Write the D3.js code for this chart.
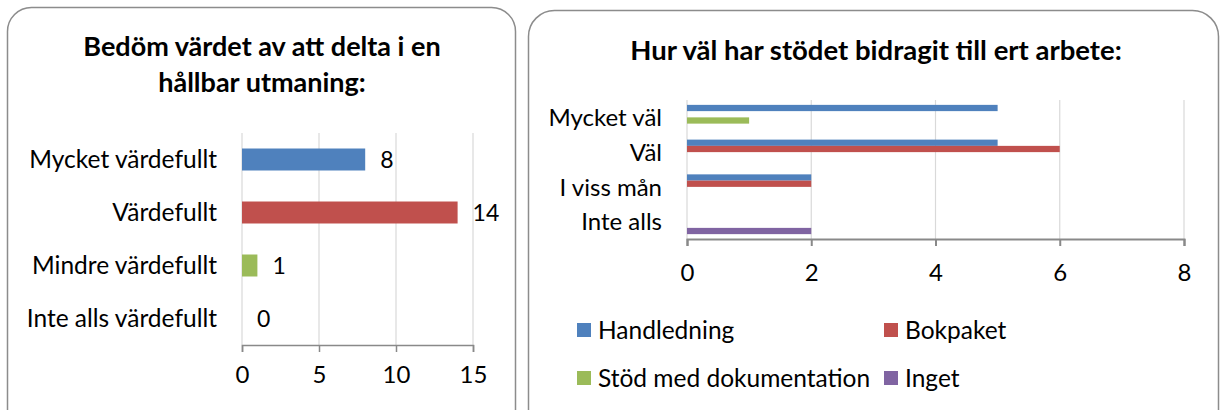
<!DOCTYPE html>
<html>
<head>
<meta charset="utf-8">
<script src="https://cdn.jsdelivr.net/npm/d3@7"></script>
<style>
  body { margin: 0; background: #fff; }
  svg text { font-family: Lato, "Open Sans", sans-serif; fill: #000; }
</style>
</head>
<body>
<svg id="chart" width="1224" height="410"></svg>
<script>
// left chart data
var valueCats = ["Mycket värdefullt", "Värdefullt", "Mindre värdefullt", "Inte alls värdefullt"];
var valueCounts = [8, 14, 1, 0];
var valueColors = ["#4F81BD", "#C0504D", "#9BBB59", "#4F81BD"];
var valueTicks = [0, 5, 10, 15];

// right chart data
var supportCats = ["Mycket väl", "Väl", "I viss mån", "Inte alls"];
var supportSeries = ["Handledning", "Bokpaket", "Stöd med dokumentation", "Inget"];
var handledning = [5, 5, 2, 0];
var bokpaket = [0, 6, 2, 0];
var stodDok = [1, 0, 0, 0];
var inget = [0, 0, 0, 2];
var supportColors = ["#4F81BD", "#C0504D", "#9BBB59", "#8064A2"];
var supportTicks = [0, 2, 4, 6, 8];

var svg = d3.select("#chart");

var GRID = "#D9D9D9", AXIS = "#898989", BORDER = "#8C8C8C";

// ---- left panel ----
svg.append("rect")
	.attr("x", 7.5).attr("y", 7.5)
	.attr("width", 508).attr("height", 430)
	.attr("rx", 24)
	.attr("fill", "#fff").attr("stroke", BORDER).attr("stroke-width", 1.5);

var left = svg.append("g");

left.append("text")
	.attr("x", 262).attr("y", 56)
	.attr("text-anchor", "middle")
	.style("font-weight", "bold").style("font-size", "27px")
	.text("Bedöm värdet av att delta i en");
left.append("text")
	.attr("x", 262).attr("y", 92)
	.attr("text-anchor", "middle")
	.style("font-weight", "bold").style("font-size", "27px")
	.text("hållbar utmaning:");

var x1 = d3.scaleLinear().domain([0, 15]).range([242, 473]);
var y1 = d3.scaleBand().domain(valueCats).range([133, 345])
	.paddingInner(0.585).paddingOuter(0.2925);

left.selectAll("line.grid")
	.data(valueTicks)
	.enter().append("line")
	.attr("class", "grid")
	.attr("x1", function(d) { return x1(d); })
	.attr("x2", function(d) { return x1(d); })
	.attr("y1", 133).attr("y2", 345)
	.attr("stroke", GRID).attr("stroke-width", 1.2);

left.selectAll("rect.bar")
	.data(valueCounts)
	.enter().append("rect")
	.attr("class", "bar")
	.attr("x", x1(0))
	.attr("y", function(d, i) { return y1(valueCats[i]); })
	.attr("width", function(d) { return x1(d) - x1(0); })
	.attr("height", y1.bandwidth())
	.attr("fill", function(d, i) { return valueColors[i]; });

left.selectAll("text.val")
	.data(valueCounts)
	.enter().append("text")
	.attr("class", "val")
	.attr("x", function(d) { return x1(d) + 15; })
	.attr("y", function(d, i) { return y1(valueCats[i]) + y1.bandwidth() / 2; })
	.attr("dy", "0.36em")
	.style("font-size", "23px")
	.text(function(d) { return d; });

left.selectAll("text.cat")
	.data(valueCats)
	.enter().append("text")
	.attr("class", "cat")
	.attr("x", 217)
	.attr("y", function(d) { return y1(d) + y1.bandwidth() / 2; })
	.attr("dy", "0.36em")
	.attr("text-anchor", "end")
	.style("font-size", "24.5px")
	.text(function(d) { return d; });

var xAxis1 = left.append("g")
	.attr("transform", "translate(0,345)")
	.call(d3.axisBottom(x1).tickValues(valueTicks).tickSize(7).tickPadding(14));
xAxis1.select(".domain").attr("stroke", AXIS).attr("stroke-width", 1.5);
xAxis1.selectAll(".tick line").attr("stroke", AXIS).attr("stroke-width", 1.5);
xAxis1.selectAll(".tick text").style("font-size", "24px").attr("fill", "#000");

// ---- right panel ----
svg.append("rect")
	.attr("x", 528.5).attr("y", 10.5)
	.attr("width", 690).attr("height", 430)
	.attr("rx", 26)
	.attr("fill", "#fff").attr("stroke", BORDER).attr("stroke-width", 1.5);

var right = svg.append("g");

right.append("text")
	.attr("x", 876).attr("y", 60)
	.attr("text-anchor", "middle")
	.style("font-weight", "bold").style("font-size", "27.5px")
	.text("Hur väl har stödet bidragit till ert arbete:");

var x2 = d3.scaleLinear().domain([0, 8]).range([687, 1184]);
var y2 = d3.scaleBand().domain(supportCats).range([100, 239])
	.paddingInner(0.28).paddingOuter(0.14);
var y2s = d3.scaleBand().domain(supportSeries).range([0, y2.bandwidth()]);

right.selectAll("line.grid")
	.data(supportTicks)
	.enter().append("line")
	.attr("class", "grid")
	.attr("x1", function(d) { return x2(d); })
	.attr("x2", function(d) { return x2(d); })
	.attr("y1", 100).attr("y2", 239)
	.attr("stroke", GRID).attr("stroke-width", 1.2);

var seriesValues = [handledning, bokpaket, stodDok, inget];
supportSeries.forEach(function(s, si) {
	right.selectAll("rect.s" + si)
		.data(seriesValues[si])
		.enter().append("rect")
		.attr("class", "s" + si)
		.attr("x", x2(0))
		.attr("y", function(d, i) { return y2(supportCats[i]) + y2s(s); })
		.attr("width", function(d) { return x2(d) - x2(0); })
		.attr("height", y2s.bandwidth())
		.attr("fill", supportColors[si]);
});

right.selectAll("text.cat")
	.data(supportCats)
	.enter().append("text")
	.attr("class", "cat")
	.attr("x", 662)
	.attr("y", function(d) { return y2(d) + y2.bandwidth() / 2; })
	.attr("dy", "0.36em")
	.attr("text-anchor", "end")
	.style("font-size", "24px")
	.text(function(d) { return d; });

var xAxis2 = right.append("g")
	.attr("transform", "translate(0,239)")
	.call(d3.axisBottom(x2).tickValues(supportTicks).tickSize(7).tickPadding(18));
xAxis2.select(".domain").attr("stroke", AXIS).attr("stroke-width", 2);
xAxis2.selectAll(".tick line").attr("stroke", AXIS).attr("stroke-width", 2);
xAxis2.selectAll(".tick text").style("font-size", "24px").attr("fill", "#000");

// legend, 2 columns
var legendX = [577, 884], legendY = [330, 378];
var legend = right.selectAll("g.legend")
	.data(supportSeries)
	.enter().append("g")
	.attr("class", "legend")
	.attr("transform", function(d, i) {
		return "translate(" + legendX[i % 2] + "," + legendY[Math.floor(i / 2)] + ")";
	});
legend.append("rect")
	.attr("x", 0).attr("y", -7)
	.attr("width", 14).attr("height", 14)
	.attr("fill", function(d, i) { return supportColors[i]; });
legend.append("text")
	.attr("x", 21).attr("y", 0)
	.attr("dy", "0.36em")
	.style("font-size", "24.5px")
	.text(function(d) { return d; });
</script>
</body>
</html>
